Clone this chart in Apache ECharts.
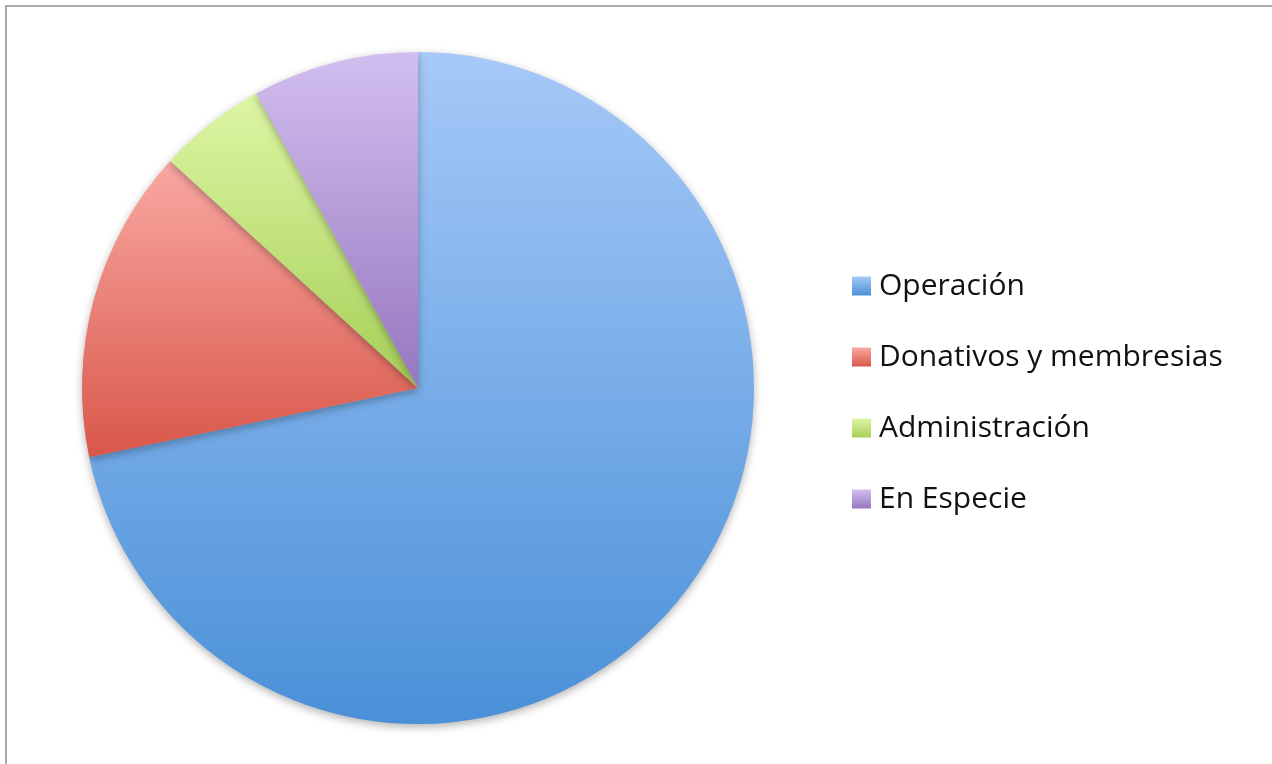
<!DOCTYPE html>
<html>
<head>
<meta charset="utf-8">
<title>Pie</title>
<script src="https://cdn.jsdelivr.net/npm/echarts@6/dist/echarts.min.js"></script>
<style>
  html, body { margin: 0; padding: 0; background: #fff; overflow: hidden; }
  #frame {
    position: absolute; left: 5px; top: 5px; width: 1280px; height: 780px;
    border-left: 2px solid #a9a9a9; border-top: 2px solid #a9a9a9;
  }
  #chart { position: absolute; left: 0; top: 0; width: 1272px; height: 764px; }
</style>
</head>
<body>
<div id="frame"></div>
<div id="chart"></div>
<script>
const categories = ['Operación', 'Donativos y membresias', 'Administración', 'En Especie'];
const values = [71.7, 15.1, 5.2, 8.0];
// top / bottom colour of each slice gradient
const topColors = ['#a6c9f8', '#f9a8a2', '#ddf6a5', '#d2beef'];
const bottomColors = ['#4a90d8', '#d9574a', '#a6cf56', '#9677bf'];

function grad(i) {
  return new echarts.graphic.LinearGradient(0, 0, 0, 1, [
    { offset: 0, color: topColors[i] },
    { offset: 1, color: bottomColors[i] }
  ]);
}

const chart = echarts.init(document.getElementById('chart'));

chart.setOption({
  animation: false,
  legend: {
    orient: 'vertical',
    left: 852,
    top: 271,
    padding: 0,
    itemWidth: 19,
    itemHeight: 19,
    itemGap: 41,
    icon: 'rect',
    textStyle: {
      fontFamily: 'Open Sans',
      fontSize: 30,
      color: '#111',
      padding: [0, 0, 0, 3]
    },
    data: categories
  },
  series: [
    {
      type: 'pie',
      center: [418, 388],
      radius: 336,
      startAngle: 90,
      clockwise: true,
      label: { show: false },
      labelLine: { show: false },
      emphasis: { disabled: true },
      itemStyle: {
        shadowBlur: 8,
        shadowOffsetY: 3,
        shadowColor: 'rgba(0,0,0,0.3)'
      },
      data: categories.map((name, i) => ({
        name: name,
        value: values[i],
        itemStyle: { color: grad(i) }
      }))
    }
  ]
});
</script>
</body>
</html>
